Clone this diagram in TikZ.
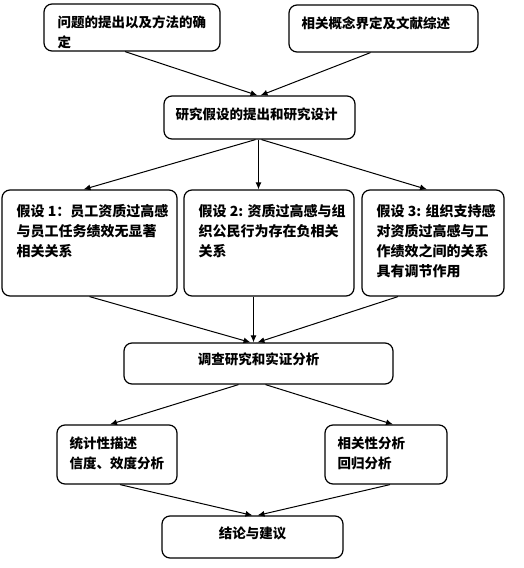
\documentclass[tikz,border=0pt]{standalone}
\usepackage{fontspec}
\setmainfont{Noto Sans CJK SC}
\usepackage{tikz}
\usetikzlibrary{arrows.meta,positioning,calc}
\tikzset{
  stage/.style={draw, rounded corners=8pt, line width=1.2pt, inner sep=0pt},
  stagetext/.style={anchor=north west, inner sep=0pt, align=left, font=\fontsize{13.5}{20.5}\selectfont\bfseries},
  hyptext/.style={anchor=north west, inner sep=0pt, align=left, font=\fontsize{14}{20}\selectfont\bfseries},
  arrow/.style={-{Latex[length=7pt,width=6pt]}, line width=1pt}
}
\begin{document}
\begin{tikzpicture}[x=1pt,y=-1pt]
  \useasboundingbox (0,0) rectangle (524,568);
  \node[stage, minimum width=176, minimum height=47] (problem) at (132,27.5) {};
  \node[stage, minimum width=189, minimum height=47] (review) at (383.5,28.5) {};
  \node[stage, minimum width=191, minimum height=43] (design) at (259.5,117.5) {};
  \node[stage, minimum width=175, minimum height=106] (hypa) at (89.5,243) {};
  \node[stage, minimum width=170, minimum height=106] (hypb) at (269,243) {};
  \node[stage, minimum width=142, minimum height=106] (hypc) at (433,243) {};
  \node[stage, minimum width=269, minimum height=41] (survey) at (258.5,363.5) {};
  \node[stage, minimum width=120, minimum height=59] (desc) at (117,454.5) {};
  \node[stage, minimum width=122, minimum height=59] (corr) at (386,454.5) {};
  \node[stage, minimum width=181, minimum height=42] (concl) at (252.5,537) {};
  \node[stagetext] (problemt) at ([shift={(14,12)}]problem.north west) {问题的提出以及方法的确\\定};
  \node[stagetext] (reviewt) at ([shift={(13,12)}]review.north west) {相关概念界定及文献综述};
  \node[stagetext] (designt) at ([shift={(12,12)}]design.north west) {研究假设的提出和研究设计};
  \node[hyptext] (hypat) at ([shift={(15,15)}]hypa.north west) {假设 1：员工资质过高感\\与员工任务绩效无显著\\相关关系};
  \node[hyptext] (hypbt) at ([shift={(15,15)}]hypb.north west) {假设 2: 资质过高感与组\\织公民行为存在负相关\\关系};
  \node[hyptext] (hypct) at ([shift={(15,15)}]hypc.north west) {假设 3: 组织支持感\\对资质过高感与工\\作绩效之间的关系\\具有调节作用};
  \node[stagetext, anchor=north] (surveyt) at ([shift={(0,10)}]survey.north) {调查研究和实证分析};
  \node[stagetext] (desct) at ([shift={(13,12)}]desc.north west) {统计性描述\\信度、效度分析};
  \node[stagetext] (corrt) at ([shift={(13,12)}]corr.north west) {相关性分析\\回归分析};
  \node[stagetext, anchor=north] (conclt) at ([shift={(0,11)}]concl.north) {结论与建议};
  \draw[arrow] ([xshift=-7]problem.south) -- ([xshift=-2]design.north);
  \draw[arrow] ([xshift=-13]review.south) -- ([xshift=1]design.north);
  \draw[arrow] ([xshift=-4]design.south) -- ([xshift=-6]hypa.north);
  \draw[arrow] ([xshift=-1]design.south) -- ([xshift=-1]design.south |- hypb.north);
  \draw[arrow] ([xshift=2]design.south) -- ([xshift=-6]hypc.north);
  \draw[arrow] (hypa.south) -- ([xshift=-8]survey.north);
  \draw[arrow] ([xshift=-5]survey.north |- hypb.south) -- ([xshift=-5]survey.north);
  \draw[arrow] ([xshift=-35]hypc.south) -- ([xshift=-1]survey.north);
  \draw[arrow] ([xshift=-20]survey.south) -- ([xshift=-7]desc.north);
  \draw[arrow] ([xshift=7]survey.south) -- ([xshift=7]corr.north);
  \draw[arrow] ([xshift=3]desc.south) -- ([xshift=0]concl.north);
  \draw[arrow] ([xshift=4]corr.south) -- ([xshift=5]concl.north);
\end{tikzpicture}
\end{document}
